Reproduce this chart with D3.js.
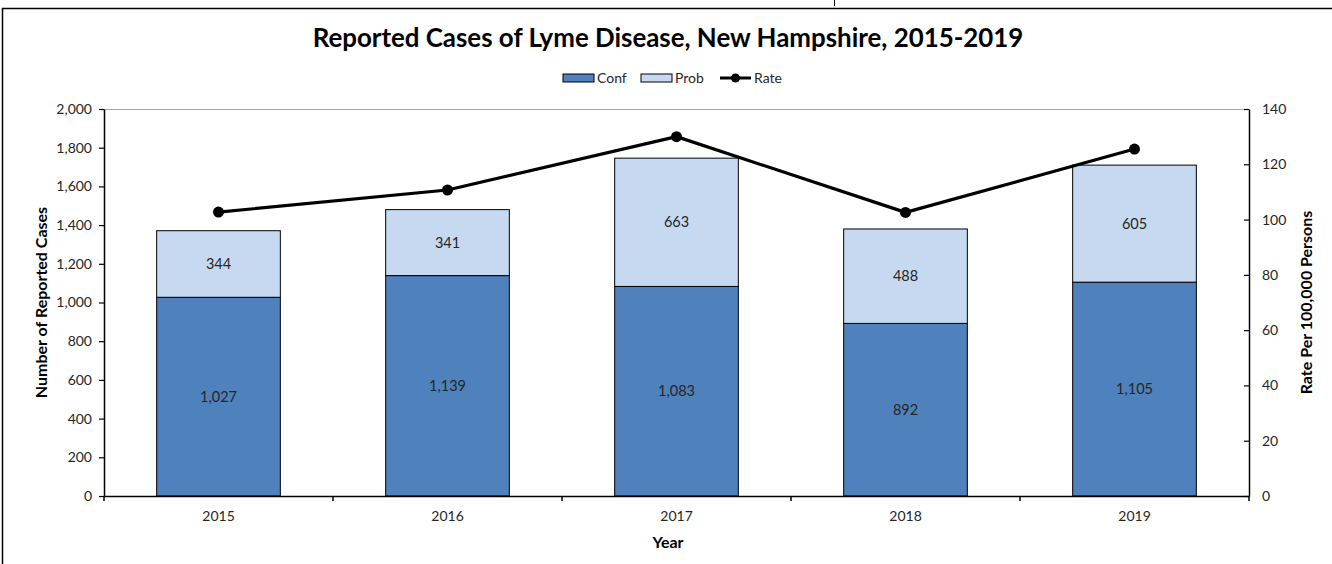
<!DOCTYPE html>
<html>
<head>
<meta charset="utf-8">
<script src="https://cdn.jsdelivr.net/npm/d3@7"></script>
<style>
  html, body { margin: 0; padding: 0; background: #fff; }
  svg { display: block; font-family: Lato, "Open Sans", sans-serif; }
</style>
</head>
<body>
<svg id="chart"></svg>
<script>
// Data
const years = ["2015", "2016", "2017", "2018", "2019"];
const confirmed = [1027, 1139, 1083, 892, 1105];
const probable = [344, 341, 663, 488, 605];
const rate = [102.7, 110.7, 130.0, 102.6, 125.5];
const caseTicks = [0, 200, 400, 600, 800, 1000, 1200, 1400, 1600, 1800, 2000];
const rateTicks = [0, 20, 40, 60, 80, 100, 120, 140];

const width = 1332, height = 564;
const margin = { top: 109, right: 83, bottom: 68, left: 104 };

const svg = d3.select("#chart").attr("width", width).attr("height", height);

// outer frame
svg.append("line").attr("x1", 2).attr("x2", width).attr("y1", 8.5).attr("y2", 8.5)
  .attr("stroke", "#000").attr("stroke-width", 1.5);
svg.append("line").attr("x1", 2.5).attr("x2", 2.5).attr("y1", 8).attr("y2", height)
  .attr("stroke", "#000").attr("stroke-width", 1.5);
svg.append("line").attr("x1", 834.5).attr("x2", 834.5).attr("y1", 0).attr("y2", 6)
  .attr("stroke", "#000").attr("stroke-width", 1);

const x = d3.scaleBand().domain(years)
  .range([margin.left, width - margin.right]).paddingInner(0).paddingOuter(0);
const barW = x.bandwidth() * 0.54;
const yL = d3.scaleLinear().domain([0, 2000]).range([height - margin.bottom, margin.top]);
const yR = d3.scaleLinear().domain([0, 140]).range([height - margin.bottom, margin.top]);

const rows = years.map((yr, i) => ({ yr, conf: confirmed[i], prob: probable[i], rate: rate[i] }));
const stack = d3.stack().keys(["conf", "prob"])(rows);
const colors = { conf: "#4F81BD", prob: "#C6D9F0" };

// plot area top border
svg.append("line").attr("x1", margin.left).attr("x2", width - margin.right)
  .attr("y1", margin.top + 0.5).attr("y2", margin.top + 0.5)
  .attr("stroke", "#a6a6a6").attr("stroke-width", 1);

// bars
stack.forEach(layer => {
  svg.append("g").selectAll("rect").data(layer).join("rect")
    .attr("x", d => x(d.data.yr) + (x.bandwidth() - barW) / 2)
    .attr("y", d => yL(d[1]))
    .attr("width", barW)
    .attr("height", d => yL(d[0]) - yL(d[1]))
    .attr("fill", colors[layer.key])
    .attr("stroke", "#000").attr("stroke-width", 1);
  svg.append("g").selectAll("text").data(layer).join("text")
    .attr("x", d => x(d.data.yr) + x.bandwidth() / 2)
    .attr("y", d => (yL(d[0]) + yL(d[1])) / 2)
    .attr("dy", "0.35em")
    .attr("text-anchor", "middle")
    .attr("font-size", 14.5).attr("fill", "#262626")
    .text(d => d3.format(",")(d[1] - d[0]));
});

// axes
const fmt = d3.format(",");
const gL = svg.append("g").attr("transform", `translate(${margin.left},0)`)
  .call(d3.axisLeft(yL).tickValues(caseTicks).tickFormat(fmt).tickSize(5).tickSizeOuter(0));
const gR = svg.append("g").attr("transform", `translate(${width - margin.right},0)`)
  .call(d3.axisRight(yR).tickValues(rateTicks).tickSize(0).tickPadding(13).tickSizeOuter(0));
gR.selectAll(".tick line").attr("x1", -5).attr("x2", 0);
const boundaries = years.map(y => x(y)).concat([width - margin.right]);
const gX = svg.append("g").attr("transform", `translate(0,${height - margin.bottom})`)
  .call(d3.axisBottom(x).tickSize(0).tickPadding(15).tickSizeOuter(0));
gX.selectAll(".boundary").data(boundaries).join("line").attr("class", "boundary")
  .attr("x1", d => d).attr("x2", d => d).attr("y1", 0).attr("y2", 5)
  .attr("stroke", "#000").attr("stroke-width", 1.5);

[gL, gR, gX].forEach(g => {
  g.select(".domain").attr("stroke", "#000").attr("stroke-width", 1.5);
  g.selectAll(".tick line").attr("stroke", "#000").attr("stroke-width", 1.2);
  g.selectAll(".tick text").attr("font-size", 14).attr("fill", "#262626")
    .attr("font-family", "Lato, 'Open Sans', sans-serif");
});
gL.selectAll(".tick text").attr("dx", "-4");

// rate line
const line = d3.line().x(d => x(d.yr) + x.bandwidth() / 2).y(d => yR(d.rate));
svg.append("path").datum(rows).attr("d", line)
  .attr("fill", "none").attr("stroke", "#000").attr("stroke-width", 3.2)
  .attr("stroke-linejoin", "round");
svg.append("g").selectAll("circle").data(rows).join("circle")
  .attr("cx", d => x(d.yr) + x.bandwidth() / 2).attr("cy", d => yR(d.rate))
  .attr("r", 5.5).attr("fill", "#000");

// titles
const title = svg.append("text").attr("x", 668).attr("y", 47)
  .attr("text-anchor", "middle").attr("font-weight", "bold").attr("font-size", 21)
  .attr("fill", "#000")
  .text("Reported Cases of Lyme Disease, New Hampshire, 2015-2019");
const tw = title.node().getComputedTextLength();
title.attr("font-size", 21 * 711 / tw);

svg.append("text").attr("x", 668).attr("y", 548).attr("text-anchor", "middle")
  .attr("font-weight", "bold").attr("font-size", 16).text("Year");
const midY = (margin.top + height - margin.bottom) / 2;
svg.append("text").attr("transform", `translate(41,${midY}) rotate(-90)`)
  .attr("text-anchor", "middle").attr("dy", "0.35em")
  .attr("font-weight", "bold").attr("font-size", 16).text("Number of Reported Cases");
svg.append("text").attr("transform", `translate(1306,${midY}) rotate(-90)`)
  .attr("text-anchor", "middle").attr("dy", "0.35em")
  .attr("font-weight", "bold").attr("font-size", 16).text("Rate Per 100,000 Persons");

// legend
const legend = svg.append("g").attr("transform", "translate(563,78)");
const items = [
  { label: "Conf", type: "box", fill: colors.conf, x: 0 },
  { label: "Prob", type: "box", fill: colors.prob, x: 78 },
  { label: "Rate", type: "line", x: 157 }
];
items.forEach(it => {
  const g = legend.append("g").attr("transform", `translate(${it.x},0)`);
  if (it.type === "box") {
    g.append("rect").attr("x", 0).attr("y", -4).attr("width", 31).attr("height", 8)
      .attr("fill", it.fill).attr("stroke", "#000").attr("stroke-width", 1);
  } else {
    g.append("line").attr("x1", 0).attr("x2", 31).attr("y1", 0).attr("y2", 0)
      .attr("stroke", "#000").attr("stroke-width", 3);
    g.append("circle").attr("cx", 15.5).attr("cy", 0).attr("r", 4.5).attr("fill", "#000");
  }
  g.append("text").attr("x", 34).attr("y", 0).attr("dy", "0.35em")
    .attr("font-size", 14).attr("fill", "#262626").text(it.label);
});
</script>
</body>
</html>
